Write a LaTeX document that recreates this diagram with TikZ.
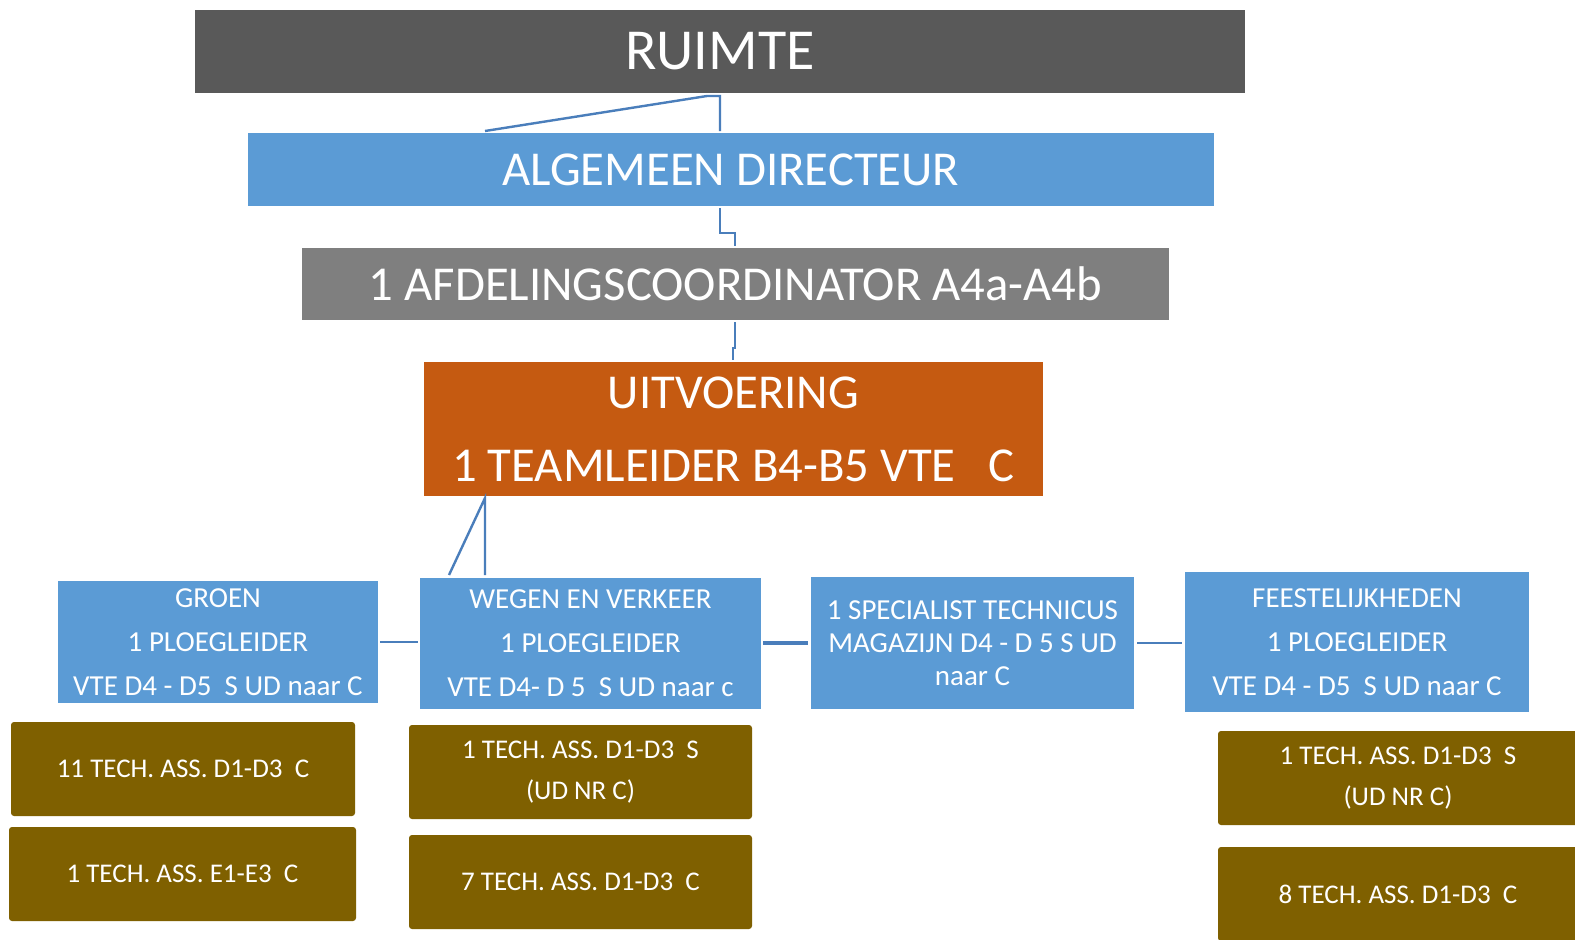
\documentclass[tikz,border=0pt]{standalone}
\usepackage{fontspec}
\setmainfont{Carlito}
\definecolor{cdark}{HTML}{595959}
\definecolor{cblue}{HTML}{5B9BD5}
\definecolor{cgrey}{HTML}{7F7F7F}
\definecolor{corange}{HTML}{C55A11}
\definecolor{cbrown}{HTML}{7F6000}
\definecolor{cline}{RGB}{74,126,187}
\begin{document}
\begin{tikzpicture}[x=1pt,y=-1pt,
  box/.style={inner sep=0pt, outer sep=0pt, align=center, text=white},
  bigbox/.style={box, font=\fontsize{48.7}{58}\selectfont},
  bluebox/.style={box, fill=cblue, font=\fontsize{29}{44}\selectfont},
  brownbox/.style={box, fill=cbrown, rounded corners=3pt, font=\fontsize{27}{41}\selectfont, minimum height=94pt},
  conn/.style={draw=cline, line width=2.4pt}]
\clip (0,0) rectangle (1575,940);
\fill[white] (0,0) rectangle (1575,940);

\node[box, fill=cdark, minimum width=1050pt, minimum height=83pt, font=\fontsize{58}{70}\selectfont] (ruimte) at (720,51.5) {RUIMTE};
\node[bigbox, fill=cblue, minimum width=966pt, minimum height=73pt] (alg) at (731,169.5) {ALGEMEEN DIRECTEUR};
\node[bigbox, fill=cgrey, minimum width=867pt, minimum height=72pt] (afd) at (735.5,284) {1 AFDELINGSCOORDINATOR A4a-A4b};
\node[bigbox, fill=corange, minimum width=619pt, minimum height=134pt, font=\fontsize{48.7}{73}\selectfont] (uitv) at (733.5,429) {UITVOERING\\1 TEAMLEIDER B4-B5 VTE~~ C};

\node[bluebox, minimum width=320pt, minimum height=122pt] (groen) at (218,642) {GROEN\\1 PLOEGLEIDER\\VTE D4 - D5~ S UD naar C};
\node[bluebox, minimum width=341pt, minimum height=131pt] (wegen) at (590.5,643.5) {WEGEN EN VERKEER\\1 PLOEGLEIDER\\VTE D4- D 5~ S UD naar c};
\node[bluebox, minimum width=323pt, minimum height=132pt, font=\fontsize{29}{33}\selectfont] (spec) at (972.5,643) {1 SPECIALIST TECHNICUS\\MAGAZIJN D4 - D 5 S UD\\naar C};
\node[bluebox, minimum width=344pt, minimum height=140pt] (feest) at (1357,642) {FEESTELIJKHEDEN\\1 PLOEGLEIDER\\VTE D4 - D5~ S UD naar C};

\node[brownbox, minimum width=344pt] (g1) at (183,769) {11 TECH. ASS. D1-D3~ C};
\node[brownbox, minimum width=347pt] (g2) at (182.5,874) {1 TECH. ASS. E1-E3~ C};
\node[brownbox, minimum width=343pt] (w1) at (580.5,772) {1 TECH. ASS. D1-D3~ S\\(UD NR C)};
\node[brownbox, minimum width=343pt] (w2) at (580.5,882) {7 TECH. ASS. D1-D3~ C};
\node[brownbox, minimum width=360pt] (f1) at (1398,778) {1 TECH. ASS. D1-D3~ S\\(UD NR C)};
\node[brownbox, minimum width=360pt] (f2) at (1398,894) {8 TECH. ASS. D1-D3~ C};

% connectors
\draw[conn] ([xshift=237pt,yshift=2pt]alg.north west) -- ([xshift=512pt,yshift=-3pt]ruimte.south west) -- ([xshift=525pt,yshift=-3pt]ruimte.south west) -- ([xshift=472pt,yshift=2pt]alg.north west);
\draw[conn] ([xshift=472pt,yshift=-2pt]alg.south west) -- ++(0,25) -| ([xshift=433pt,yshift=2pt]afd.north west);
\draw[conn] ([xshift=433pt,yshift=-2pt]afd.south west) -- ++(0,26) -| ([xshift=309pt,yshift=2pt]uitv.north west);
\draw[conn] ([xshift=29pt,yshift=3pt]wegen.north west) -- ([xshift=61pt,yshift=-2pt]uitv.south west) -- ([xshift=65pt,yshift=3pt]wegen.north west);
\draw[conn, shorten <=2pt, shorten >=2pt] (groen.east) -- (groen.east -| wegen.west);
\draw[conn, line width=3.2pt, shorten <=2pt, shorten >=3pt] (wegen.east |- spec.west) -- (spec.west);
\draw[conn, shorten <=3pt, shorten >=3pt] (spec.east) -- (spec.east -| feest.west);
\end{tikzpicture}
\end{document}
